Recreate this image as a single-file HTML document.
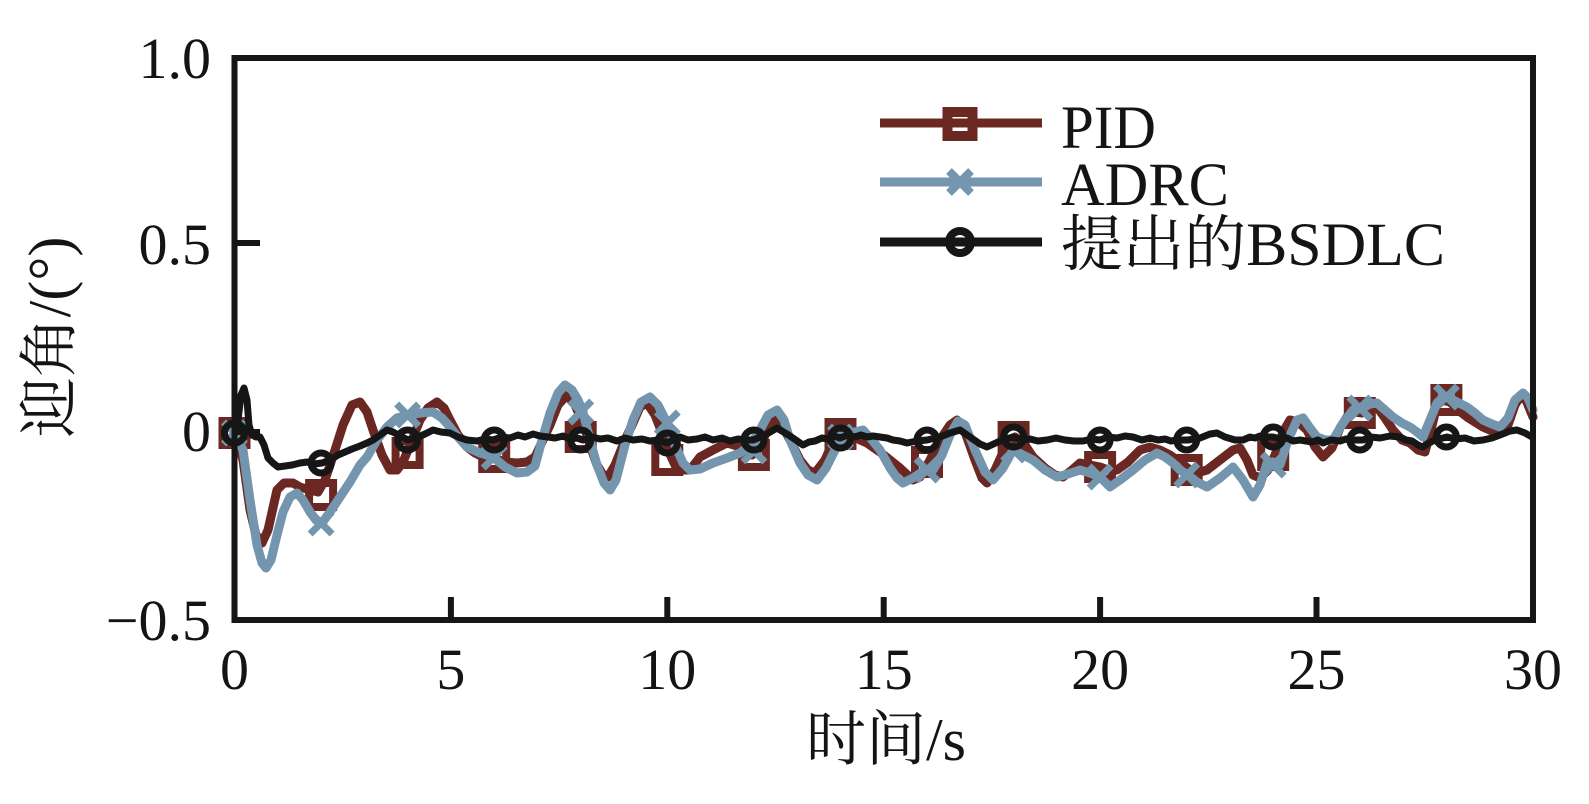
<!DOCTYPE html>
<html>
<head>
<meta charset="utf-8">
<style>
  html,body{margin:0;padding:0;background:#fff;}
  svg{display:block;}
  text{font-family:"Liberation Serif","Noto Serif CJK SC",serif;fill:#141414;}
</style>
</head>
<body>
<svg width="1589" height="804" viewBox="0 0 1589 804" xmlns="http://www.w3.org/2000/svg">
  <rect width="1589" height="804" fill="#fff"/>

  <!-- PID -->
  <polyline fill="none" stroke="#6b2823" stroke-width="9" stroke-linejoin="round" stroke-linecap="round" points="235,433 243,460 250,510 256,535 262,543 268,530 277,490 284,483 293,483 300,487 310,490 318,492 325,480 335,450 343,425 352,405 360,402 367,412 373,430 382,455 390,470 397,470 403,462 410,445 420,420 428,408 437,402 444,408 450,420 458,435 467,447 475,453 483,457 493,458 505,462 517,463 527,462 535,457 543,440 550,425 558,405 567,395 575,405 583,423 590,445 597,465 603,475 608,477 615,465 625,440 633,423 640,407 647,403 655,415 662,433 668,450 675,465 682,470 690,470 700,457 713,450 727,443 740,447 752,455 760,448 768,428 775,420 782,425 790,440 800,460 808,470 815,473 825,460 833,442 840,432 850,433 860,440 867,443 880,452 890,460 900,468 913,480 920,477 930,460 940,440 950,425 957,420 965,432 975,460 982,478 987,483 995,470 1005,448 1015,437 1025,445 1033,457 1045,468 1055,475 1063,477 1072,470 1080,463 1090,465 1100,467 1108,470 1117,470 1128,462 1140,450 1150,447 1160,450 1170,455 1180,462 1190,470 1200,472 1207,470 1220,460 1233,450 1240,448 1247,460 1253,475 1260,478 1268,470 1275,455 1283,432 1290,420 1298,422 1307,430 1315,447 1323,457 1332,448 1340,428 1347,417 1355,412 1362,413 1370,408 1377,407 1385,418 1393,430 1402,440 1410,443 1418,450 1425,452 1431,430 1437,405 1443,400 1450,402 1458,410 1467,417 1475,422 1483,427 1492,431 1500,433 1508,425 1515,405 1520,397 1526,400 1533,417"/>
  <g fill="none" stroke="#6b2823" stroke-width="8">
    <rect x="222.5" y="421" width="24" height="24"/>
    <rect x="309.1" y="483" width="24" height="24"/>
    <rect x="395.6" y="441" width="24" height="24"/>
    <rect x="482.2" y="445" width="24" height="24"/>
    <rect x="568.7" y="425" width="24" height="24"/>
    <rect x="655.3" y="448" width="24" height="24"/>
    <rect x="741.9" y="443" width="24" height="24"/>
    <rect x="828.5" y="422" width="24" height="24"/>
    <rect x="915" y="450" width="24" height="24"/>
    <rect x="1001.6" y="425" width="24" height="24"/>
    <rect x="1088.1" y="455" width="24" height="24"/>
    <rect x="1174.7" y="458" width="24" height="24"/>
    <rect x="1261.2" y="443" width="24" height="24"/>
    <rect x="1347.8" y="401" width="24" height="24"/>
    <rect x="1434.4" y="388" width="24" height="24"/>
  </g>

  <!-- ADRC -->
  <polyline fill="none" stroke="#7395ad" stroke-width="9" stroke-linejoin="round" stroke-linecap="round" points="235,433 243,450 250,500 257,545 262,563 266,568 271,560 277,535 283,512 290,497 297,493 303,500 310,512 316,520 322,523 330,512 340,497 350,482 360,465 367,457 377,440 387,427 397,418 408,415 420,413 433,412 442,418 450,427 458,437 467,447 480,453 493,457 505,467 517,473 527,472 535,466 542,440 550,413 558,393 565,385 572,390 578,400 583,412 590,440 597,465 604,483 610,490 616,480 625,445 633,420 641,402 650,397 658,405 667,423 675,445 683,463 690,470 700,469 713,463 727,458 740,453 750,445 760,430 768,415 777,410 784,420 790,440 800,463 808,475 817,480 826,468 835,450 847,437 855,432 863,430 872,440 880,450 890,468 897,478 903,483 913,478 922,472 933,470 942,455 950,435 958,421 965,425 975,450 985,472 993,480 1003,468 1013,450 1023,455 1033,460 1045,470 1057,477 1068,474 1080,470 1090,473 1100,477 1105,482 1110,487 1120,480 1133,470 1145,460 1157,453 1165,457 1173,463 1180,470 1188,475 1197,482 1207,487 1220,478 1233,467 1243,480 1253,497 1260,485 1267,463 1273,462 1280,465 1288,440 1297,420 1303,418 1310,428 1317,437 1325,440 1333,440 1343,423 1353,410 1363,408 1370,404 1377,403 1385,410 1393,417 1402,423 1410,427 1417,432 1423,437 1430,420 1437,403 1442,398 1448,397 1457,402 1467,407 1475,413 1483,420 1492,424 1500,427 1508,418 1515,400 1523,393 1528,398 1533,410"/>
  <g stroke="#7395ad" stroke-width="7" stroke-linecap="butt" fill="none">
    <path d="M223.5,422 l22,22 m0,-22 l-22,22"/>
    <path d="M310.1,512 l22,22 m0,-22 l-22,22"/>
    <path d="M396.6,404 l22,22 m0,-22 l-22,22"/>
    <path d="M483.2,446 l22,22 m0,-22 l-22,22"/>
    <path d="M569.7,401 l22,22 m0,-22 l-22,22"/>
    <path d="M656.3,412 l22,22 m0,-22 l-22,22"/>
    <path d="M742.9,440 l22,22 m0,-22 l-22,22"/>
    <path d="M829.5,426 l22,22 m0,-22 l-22,22"/>
    <path d="M916,459 l22,22 m0,-22 l-22,22"/>
    <path d="M1002.6,439 l22,22 m0,-22 l-22,22"/>
    <path d="M1089.1,466 l22,22 m0,-22 l-22,22"/>
    <path d="M1175.7,464 l22,22 m0,-22 l-22,22"/>
    <path d="M1262.2,454 l22,22 m0,-22 l-22,22"/>
    <path d="M1348.8,397 l22,22 m0,-22 l-22,22"/>
    <path d="M1435.4,386 l22,22 m0,-22 l-22,22"/>
  </g>

  <!-- BSDLC -->
  <polyline fill="none" stroke="#161616" stroke-width="7" stroke-linejoin="round" stroke-linecap="round" points="235,433 238,420 241,395 244,388 247,400 249,425 252,435 256,437 260,437 264,445 268,458 273,463 278,467 285,466 292,465 300,463 307,462 314,464 322,463 330,460 338,455 345,452 352,449 360,446 367,443 373,440 380,435 387,430 393,432 400,436 408,440 416,438 425,434 433,430 441,432 450,433 458,437 467,440 477,441 485,439 493,440 502,437 510,438 518,435 525,437 533,434 540,436 548,437 555,438 563,436 570,439 577,438 583,440 592,437 600,439 608,438 617,441 625,438 633,440 642,439 650,441 658,440 667,443 673,440 680,437 688,440 697,439 705,437 713,440 722,438 730,441 738,439 745,440 753,440 765,435 777,428 790,436 803,445 809,442 815,441 822,438 828,439 834,436 840,438 848,435 855,437 861,435 867,437 873,436 880,437 887,438 893,440 900,441 907,443 917,441 927,440 940,437 950,433 960,430 970,437 980,444 987,447 1000,441 1013,437 1022,440 1030,439 1038,441 1047,440 1056,438 1065,440 1074,441 1083,441 1092,439 1100,440 1108,437 1117,438 1125,436 1133,437 1142,440 1150,438 1158,440 1165,439 1171,441 1177,440 1188,440 1200,438 1210,434 1217,433 1225,437 1235,440 1243,440 1250,437 1255,438 1260,436 1265,437 1273,437 1280,439 1287,438 1293,441 1300,440 1306,441 1312,442 1318,440 1323,443 1331,440 1340,441 1346,439 1352,440 1363,440 1371,437 1380,438 1390,436 1400,437 1406,440 1412,441 1418,445 1423,447 1429,443 1435,440 1447,437 1456,439 1465,438 1474,441 1483,440 1492,438 1500,435 1510,431 1517,430 1525,433 1532,437"/>
  <g fill="none" stroke="#161616" stroke-width="7">
    <circle cx="234.5" cy="433" r="10"/>
    <circle cx="321.1" cy="463" r="10"/>
    <circle cx="407.6" cy="440" r="10"/>
    <circle cx="494.2" cy="440" r="10"/>
    <circle cx="580.7" cy="440" r="10"/>
    <circle cx="667.3" cy="443" r="10"/>
    <circle cx="753.9" cy="440" r="10"/>
    <circle cx="840.5" cy="438" r="10"/>
    <circle cx="927" cy="440" r="10"/>
    <circle cx="1013.6" cy="437" r="10"/>
    <circle cx="1100.1" cy="440" r="10"/>
    <circle cx="1186.7" cy="440" r="10"/>
    <circle cx="1273.2" cy="437" r="10"/>
    <circle cx="1359.8" cy="440" r="10"/>
    <circle cx="1446.4" cy="437" r="10"/>
  </g>

  <!-- Axes frame -->
  <rect x="234.5" y="58" width="1298.5" height="562" fill="none" stroke="#161616" stroke-width="6"/>
  <!-- ticks -->
  <g stroke="#161616" stroke-width="6">
    <line x1="234.5" y1="243" x2="260" y2="243"/>
    <line x1="234.5" y1="432" x2="260" y2="432"/>
    <line x1="450.9" y1="620" x2="450.9" y2="597"/>
    <line x1="667.3" y1="620" x2="667.3" y2="597"/>
    <line x1="883.7" y1="620" x2="883.7" y2="597"/>
    <line x1="1100.1" y1="620" x2="1100.1" y2="597"/>
    <line x1="1316.5" y1="620" x2="1316.5" y2="597"/>
  </g>

  <!-- Y tick labels -->
  <g font-size="58" text-anchor="end">
    <text x="211" y="78">1.0</text>
    <text x="211" y="264">0.5</text>
    <text x="211" y="451">0</text>
    <text x="211" y="640">−0.5</text>
  </g>
  <!-- X tick labels -->
  <g font-size="58" text-anchor="middle">
    <text x="234.5" y="689">0</text>
    <text x="450.9" y="689">5</text>
    <text x="667.3" y="689">10</text>
    <text x="883.7" y="689">15</text>
    <text x="1100.1" y="689">20</text>
    <text x="1316.5" y="689">25</text>
    <text x="1533" y="689">30</text>
  </g>

  <!-- Axis titles -->
  <text x="886" y="760" font-size="60" text-anchor="middle">时间/s</text>
  <text transform="translate(70,337) rotate(-90)" font-size="60" text-anchor="middle">迎角/(°)</text>

  <!-- Legend -->
  <line x1="880" y1="123" x2="1042" y2="123" stroke="#6b2823" stroke-width="9"/>
  <rect x="947.5" y="112" width="25" height="24" fill="none" stroke="#6b2823" stroke-width="10"/>
  <line x1="880" y1="182" x2="1042" y2="182" stroke="#7395ad" stroke-width="9"/>
  <path d="M949,171 l22,22 m0,-22 l-22,22" stroke="#7395ad" stroke-width="8" fill="none"/>
  <line x1="880" y1="242" x2="1042" y2="242" stroke="#161616" stroke-width="9"/>
  <circle cx="960" cy="242" r="11" fill="none" stroke="#161616" stroke-width="8"/>
  <g font-size="61">
    <text x="1061" y="148" textLength="95" lengthAdjust="spacingAndGlyphs">PID</text>
    <text x="1061" y="205" textLength="168" lengthAdjust="spacingAndGlyphs">ADRC</text>
    <text x="1061" y="265" textLength="384" lengthAdjust="spacingAndGlyphs">提出的BSDLC</text>
  </g>
</svg>
</body>
</html>
